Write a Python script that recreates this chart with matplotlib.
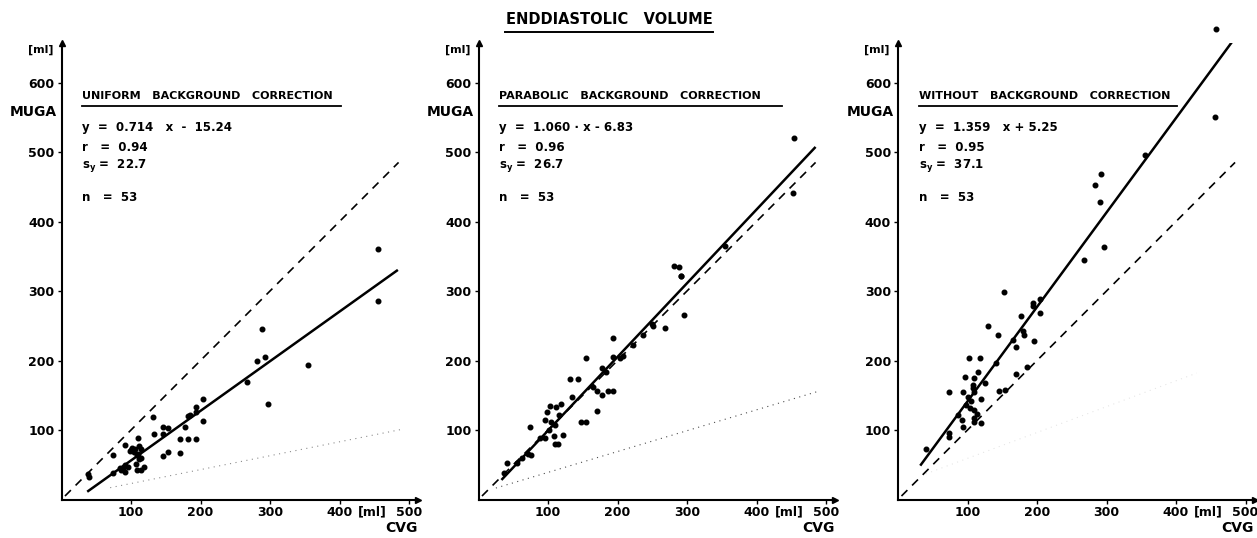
import numpy as np
import matplotlib
matplotlib.use("Agg")
from matplotlib import pyplot as plt
from matplotlib.lines import Line2D

plt.rcParams["font.family"] = ["DejaVu Sans"]
plt.rcParams["font.weight"] = "bold"

# data (CVG vs MUGA, ml)
uniform_x = [455, 455, 289, 281, 293, 267, 355, 297, 203, 203, 193, 193, 182, 185, 178,
             170, 182, 193, 170, 153, 146, 146, 133, 131, 153, 146, 110, 112, 115, 91,
             100, 104, 108, 115, 107, 108, 115, 92, 88, 92, 86, 74, 74, 39, 38,
             102, 106, 110, 98, 95, 84, 112, 118]
uniform_y = [286, 361, 245, 199, 205, 169, 193, 138, 145, 113, 133, 126, 120, 121, 105,
             87, 87, 87, 67, 103, 105, 94, 94, 118, 68, 63, 89, 77, 73, 78,
             71, 69, 64, 59, 51, 43, 43, 50, 45, 40, 43, 38, 64, 33, 37,
             74, 72, 66, 70, 47, 45, 58, 47]

parabolic_x = [282, 289, 291, 454, 452, 354, 296, 269, 193, 251, 236, 155, 193, 178, 184,
               131, 143, 134, 165, 170, 177, 186, 194, 171, 148, 155, 119, 112, 103, 98,
               95, 104, 110, 122, 109, 110, 115, 88, 95, 74, 71, 76, 55, 41, 36,
               292, 222, 208, 203, 250, 116, 101, 62]
parabolic_y = [336, 334, 322, 520, 441, 365, 266, 247, 233, 250, 236, 203, 205, 189, 184,
               174, 174, 148, 162, 156, 151, 156, 156, 127, 111, 112, 137, 133, 134, 126,
               114, 112, 107, 93, 92, 80, 80, 88, 88, 105, 66, 64, 52, 53, 38,
               322, 222, 207, 204, 253, 122, 100, 60]

without_x = [153, 204, 194, 194, 205, 177, 130, 144, 180, 182, 165, 170, 196, 102, 118,
             141, 115, 170, 185, 97, 110, 108, 108, 109, 73, 94, 146, 154, 120, 101,
             98, 103, 110, 113, 86, 92, 110, 110, 119, 94, 73, 74, 41, 457, 456,
             356, 292, 283, 290, 297, 268, 105, 125]
without_y = [299, 288, 283, 278, 268, 264, 249, 237, 242, 237, 229, 220, 228, 204, 203,
             196, 183, 180, 190, 176, 175, 165, 160, 155, 155, 155, 156, 158, 145, 148,
             136, 131, 129, 123, 122, 114, 117, 112, 110, 104, 96, 90, 72, 677, 551,
             496, 469, 453, 428, 363, 345, 142, 168]

panels = [
    {"title": "UNIFORM   BACKGROUND   CORRECTION",
     "eq": "y  =  0.714   x  -  15.24", "r": "r   =  0.94", "sy": "22.7",
     "x": uniform_x, "y": uniform_y, "slope": 0.714, "icpt": -15.24, "fit_x": (37, 484),
     "dot": (0.2, 3, 70, 487, 0.45), "left": 61.5, "title_end": 402},
    {"title": "PARABOLIC   BACKGROUND   CORRECTION",
     "eq": "y  =  1.060 · x - 6.83", "r": "r   =  0.96", "sy": "26.7",
     "x": parabolic_x, "y": parabolic_y, "slope": 1.060, "icpt": -6.83, "fit_x": (33, 485),
     "dot": (0.3, 9, 25, 487, 0.7), "left": 478.5, "title_end": 436},
    {"title": "WITHOUT   BACKGROUND   CORRECTION",
     "eq": "y  =  1.359   x + 5.25", "r": "r   =  0.95", "sy": "37.1",
     "x": without_x, "y": without_y, "slope": 1.359, "icpt": 5.25, "fit_x": (32, 488),
     "dot": (0.372, 22, 40, 430, 0.1), "left": 898, "title_end": 402},
]

W, H = 1257, 538
scale = 0.695          # pixels per ml
x_max, y_max = 513, 657
fig = plt.figure(figsize=(W / 100, H / 100), dpi=100)

for p in panels:
    ax = fig.add_axes([p["left"] / W, (H - 499.5) / H, x_max * scale / W, y_max * scale / H])
    ax.set_xlim(0, x_max)
    ax.set_ylim(0, y_max)
    for side in ["top", "right"]:
        ax.spines[side].set_visible(False)
    for side in ["left", "bottom"]:
        ax.spines[side].set_linewidth(1.5)
    ax.plot(1, 0, ">k", ms=5, transform=ax.get_yaxis_transform(), clip_on=False)
    ax.plot(0, 1, "^k", ms=5, transform=ax.get_xaxis_transform(), clip_on=False)

    ax.set_xticks([100, 200, 300, 400, 500])
    ax.set_yticks([100, 200, 300, 400, 500, 600])
    ax.tick_params(direction="out", length=3, width=1, labelsize=9, pad=2)
    for lab in ax.get_xticklabels() + ax.get_yticklabels():
        lab.set_fontweight("bold")

    # identity line, regression line and faint dotted line
    ident = np.array([5, 485])
    ax.plot(ident, ident, color="black", lw=1.2, ls=(0, (5, 4)))
    fx = np.array(p["fit_x"])
    ax.plot(fx, p["slope"] * fx + p["icpt"], color="black", lw=1.8, solid_capstyle="butt")
    ds, di, d0, d1, da = p["dot"]
    dx = np.array([d0, d1])
    ax.plot(dx, ds * dx + di, color="black", lw=0.8, ls=(0, (1, 4)), alpha=da)

    ax.plot(p["x"], p["y"], "o", color="black", ms=3.3, clip_on=False)

    # labels
    ax.text(-12, 647, "[ml]", ha="right", va="center", fontsize=8, fontweight="bold")
    ax.text(-6, 557, "MUGA", ha="right", va="center", fontsize=10, fontweight="bold")
    ax.text(447, -9, "[ml]", ha="center", va="top", fontsize=9, fontweight="bold")
    ax.text(512, -31, "CVG", ha="right", va="top", fontsize=10, fontweight="bold")

    ax.text(29.5, 580, p["title"], ha="left", va="center", fontsize=8, fontweight="bold")
    ax.plot([29.5, p["title_end"]], [566, 566], color="black", lw=1.3, clip_on=False)
    ax.text(29.5, 535, p["eq"], ha="left", va="center", fontsize=8.5, fontweight="bold")
    ax.text(29.5, 507, p["r"], ha="left", va="center", fontsize=8.5, fontweight="bold")
    ax.text(29.5, 480, r"$\mathbf{s_y}$ =  " + p["sy"], ha="left", va="center",
            fontsize=8.5, fontweight="bold")
    ax.text(29.5, 435, "n   =  53", ha="left", va="center", fontsize=8.5, fontweight="bold")

fig.text(609 / W, 1 - 20 / H, "ENDDIASTOLIC   VOLUME", ha="center", va="center",
         fontsize=10.5, fontweight="bold")
fig.add_artist(Line2D([505 / W, 713 / W], [1 - 32 / H, 1 - 32 / H], color="black", lw=1.4))

fig.savefig("out.png", dpi=100)
